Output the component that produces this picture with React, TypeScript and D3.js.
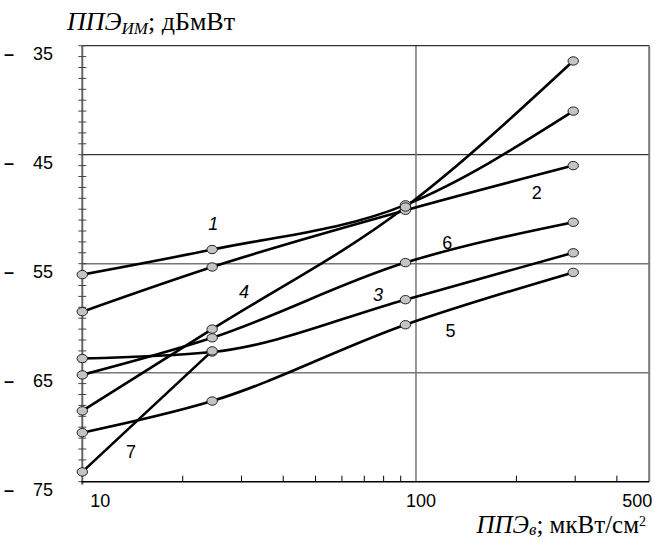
import React from 'react';
import * as d3 from 'd3';

// x positions of the measured points (мкВт/см2)
const xValues = [10, 24.5, 93, 296];

// curves, dBmW
const curve1 = [-56.0, -53.7, -49.6, -41.0];
const curve2 = [-59.4, -55.3, -50.1, -46.0];
const curve3 = [-63.7, -63.1, -58.3, -54.0];
const curve4 = [-68.5, -61.0, -49.8, -36.4];
const curve5 = [-70.5, -67.6, -60.6, -55.8];
const curve6 = [-65.2, -61.8, -54.9, -51.2];
const curve7 = [-74.1, -63.0];

const curveNames = ['1', '2', '3', '4', '5', '6', '7'];
const labelX = [24.7, 230, 77, 30.5, 127, 124, 14.0];
const labelY = [-51.4, -48.5, -57.9, -57.6, -61.2, -53.1, -72.3];
const labelItalic = [true, false, true, true, false, false, false];

const yTickLabels = [-35, -45, -55, -65, -75];
const yMinorTicks = d3.range(-75, -34, 1);
const xTickLabels = [10, 100, 500];
const xMinorTicks = [20, 30, 40, 50, 60, 70, 80, 90, 200, 300, 400];
const hGrid = [-45, -55, -65];
const vGrid = [100];

const W = 655;
const H = 540;

const App = () => {
  const x = d3.scaleLog().domain([10, 500]).range([82.3, 649.2]);
  const y = d3.scaleLinear().domain([-75, -35]).range([481.7, 45.7]);

  const series = [curve1, curve2, curve3, curve4, curve5, curve6, curve7];

  const line = d3.line<[number, number]>()
    .x(d => x(d[0]))
    .y(d => y(d[1]))
    .curve(d3.curveMonotoneX);

  const sans = 'Arial, "Liberation Sans", sans-serif';
  const serif = '"Times New Roman", "Liberation Serif", serif';

  return (
    <svg width={W} height={H} style={{ position: 'absolute', left: 0, top: 0, background: '#fff' }}>
      {/* grid */}
      {hGrid.map((v, i) => (
        <line key={'h' + v} x1={x(10)} x2={x(500)} y1={y(v)} y2={y(v)}
          stroke={i === 0 ? '#000' : '#777'} strokeWidth={i === 0 ? 1 : 1.5} />
      ))}
      {vGrid.map(v => (
        <line key={'v' + v} x1={x(v)} x2={x(v)} y1={y(-35)} y2={y(-75)} stroke="#777" strokeWidth={1.5} />
      ))}
      {/* frame */}
      <line x1={x(10)} x2={x(500)} y1={y(-35)} y2={y(-35)} stroke="#000" strokeWidth={1} />
      <line x1={x(500)} x2={x(500)} y1={y(-35)} y2={y(-75)} stroke="#777" strokeWidth={2} />

      {/* left axis */}
      <line x1={x(10)} x2={x(10)} y1={y(-35)} y2={y(-75) + 3} stroke="#666" strokeWidth={2} />
      {yMinorTicks.map(v => (
        <line key={'yt' + v} x1={x(10) - 4} x2={x(10) + 4} y1={y(v)} y2={y(v)} stroke="#444" strokeWidth={1} />
      ))}
      {yTickLabels.map(v => (
        <g key={'yl' + v} fontFamily={sans} fontSize={18}>
          <text x={4} y={y(v) + 14} fontWeight="bold">–</text>
          <text x={53} y={y(v) + 14} textAnchor="end">{Math.abs(v)}</text>
        </g>
      ))}

      {/* bottom axis */}
      <line x1={x(10) - 1} x2={x(500)} y1={y(-75)} y2={y(-75)} stroke="#000" strokeWidth={1.5} />
      {xMinorTicks.map(v => (
        <line key={'xt' + v} x1={x(v)} x2={x(v)} y1={y(-75)} y2={y(-75) - 6} stroke="#000" strokeWidth={1} />
      ))}
      {xTickLabels.map((v, i) => (
        <text key={'xl' + v} x={i === 0 ? x(v) + 8 : i === 1 ? x(v) + 5 : x(v) + 3}
          y={507} fontFamily={sans} fontSize={18}
          textAnchor={i === 0 ? 'start' : i === 1 ? 'middle' : 'end'}>{v}</text>
      ))}

      {/* curves */}
      {series.map((vals, i) => (
        <path key={'c' + i}
          d={line(vals.map((v, j) => [xValues[j], v] as [number, number])) || ''}
          fill="none" stroke="#000" strokeWidth={2.6} strokeLinejoin="round" />
      ))}
      {series.map((vals, i) => vals.map((v, j) => (
        <ellipse key={'m' + i + '-' + j} cx={x(xValues[j])} cy={y(v)} rx={5.2} ry={4.2}
          fill="#c4c4c4" stroke="#222" strokeWidth={1} />
      )))}

      {/* curve numbers */}
      {curveNames.map((n, i) => (
        <text key={'n' + n} x={x(labelX[i])} y={y(labelY[i])} fontFamily={sans} fontSize={18}
          fontStyle={labelItalic[i] ? 'italic' : 'normal'} textAnchor="middle" dominantBaseline="central">{n}</text>
      ))}

      {/* axis titles */}
      <text x={67} y={30} fontFamily={serif} fontSize={26}>
        <tspan fontStyle="italic">ППЭ</tspan>
        <tspan fontStyle="italic" fontSize={17} dy={4}>ИМ</tspan>
        <tspan dy={-4}>; дБмВт</tspan>
      </text>
      <text x={646} y={533} fontFamily={serif} fontSize={25} textAnchor="end">
        <tspan fontStyle="italic">ППЭ</tspan>
        <tspan fontStyle="italic" fontSize={17} dy={2}>в</tspan>
        <tspan dy={-2}>; мкВт/см</tspan>
        <tspan fontSize={14} dy={-7}>2</tspan>
      </text>
    </svg>
  );
};

export default App;
